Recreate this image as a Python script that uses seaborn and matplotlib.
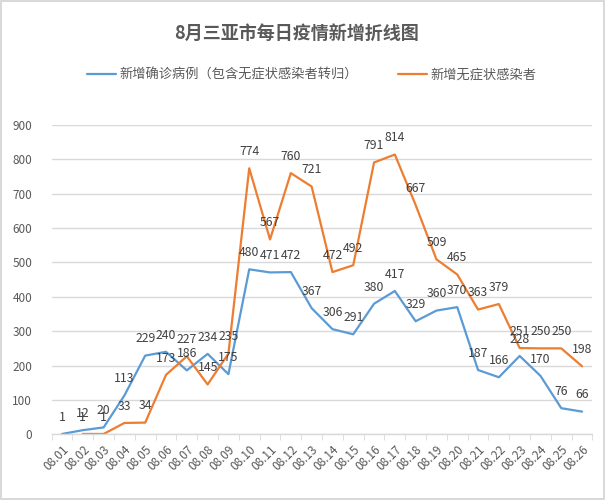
import numpy as np
import pandas as pd
import matplotlib
matplotlib.use('Agg')
import matplotlib.pyplot as plt
import seaborn as sns

dates = ['08.01', '08.02', '08.03', '08.04', '08.05', '08.06', '08.07', '08.08', '08.09',
         '08.10', '08.11', '08.12', '08.13', '08.14', '08.15', '08.16', '08.17', '08.18',
         '08.19', '08.20', '08.21', '08.22', '08.23', '08.24', '08.25', '08.26']
confirmed = [1, 12, 20, 113, 229, 240, 186, 234, 175, 480, 471, 472, 367, 306, 291, 380,
             417, 329, 360, 370, 187, 166, 228, 170, 76, 66]
# 08.01 has no asymptomatic value
asymptomatic = [np.nan, 1, 1, 33, 34, 173, 227, 145, 235, 774, 567, 760, 721, 472, 492, 791,
                814, 667, 509, 465, 363, 379, 251, 250, 250, 198]

label_confirmed = '新增确诊病例（包含无症状感染者转归）'
label_asym = '新增无症状感染者'

sns.set_style('white')
plt.rcParams['font.family'] = ['Noto Sans CJK SC', 'DejaVu Sans']

idx = np.arange(len(dates))
df = pd.concat([
    pd.DataFrame({'pos': idx, 'value': confirmed, 'series': label_confirmed}),
    pd.DataFrame({'pos': idx, 'value': asymptomatic, 'series': label_asym}),
]).dropna()

blue = '#5B9BD5'
orange = '#ED7D31'
text_c = '#595959'
grid_c = '#D9D9D9'

fig = plt.figure(figsize=(6.05, 5.0), dpi=100)
fig.patch.set_edgecolor(grid_c)
fig.patch.set_linewidth(1.5)
ax = fig.add_axes([0.0853, 0.1314, 0.894, 0.6186])

sns.lineplot(data=df, x='pos', y='value', hue='series',
             palette={label_confirmed: blue, label_asym: orange},
             linewidth=1.6, ax=ax, legend=True)

for s, vals in [(label_confirmed, confirmed), (label_asym, asymptomatic)]:
    for i, v in enumerate(vals):
        if np.isnan(v):
            continue
        ax.annotate(f'{int(v)}', (i, v), xytext=(0, 12), textcoords='offset points',
                    ha='center', va='center', fontsize=8.8, color='#404040')

ax.set_xlim(-0.5, len(dates) - 0.5)
ax.set_ylim(0, 900)
ax.set_yticks(range(0, 901, 100))
ax.set_xticks(idx)
ax.set_xticklabels(dates, rotation=45, ha='right', rotation_mode='anchor')
ax.set_xticks(np.arange(-0.5, len(dates), 1), minor=True)
ax.tick_params(axis='x', which='major', length=0, pad=6, labelsize=8.5, labelcolor=text_c)
ax.tick_params(axis='x', which='minor', length=4, color=grid_c, direction='out', bottom=True)
ax.tick_params(axis='y', length=0, pad=14, labelsize=8.5, labelcolor=text_c)
ax.set_xlabel('')
ax.set_ylabel('')
ax.grid(axis='y', color=grid_c, linewidth=1)
for sp in ['left', 'right', 'top']:
    ax.spines[sp].set_visible(False)
ax.spines['bottom'].set_color(grid_c)
ax.spines['bottom'].set_linewidth(1)

handles, labels = ax.get_legend_handles_labels()
ax.legend_.remove()
fig.legend(handles, labels, loc='center', bbox_to_anchor=(0.515, 0.85), ncol=2,
           frameon=False, fontsize=9.5, handlelength=2.2, columnspacing=3.0,
           handletextpad=0.3, labelcolor=text_c)

fig.text(0.49, 0.934, '8月三亚市每日疫情新增折线图', ha='center', va='center',
         fontsize=13, fontweight='bold', color=text_c)

fig.savefig('out.png', dpi=100)
